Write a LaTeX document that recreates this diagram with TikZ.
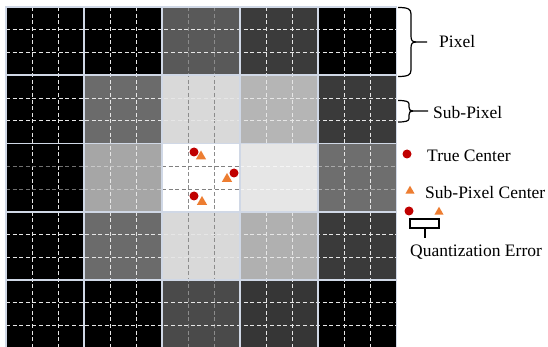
\documentclass[tikz,border=0pt]{standalone}
\usepackage{fontspec}
\setmainfont{Liberation Serif}
\usetikzlibrary{shapes.geometric}
\definecolor{dotred}{HTML}{C00000}
\definecolor{triorange}{HTML}{ED7D31}
\definecolor{cellborder}{HTML}{D0D8E6}
\definecolor{dashlight}{HTML}{E6E6E6}
\definecolor{dashgray}{HTML}{8C8C8C}
\begin{document}
\begin{tikzpicture}[x=1pt,y=-1pt,
  pixcell/.style={rectangle,inner sep=0pt,minimum width=78pt,minimum height=68.2pt},
  pixborder/.style={draw=cellborder,line width=1.4pt},
  subdash/.style={line width=0.9pt,dash pattern=on 4pt off 2.6pt},
  truec/.style={circle,fill=dotred,inner sep=0pt,minimum size=9pt},
  subc/.style={regular polygon,regular polygon sides=3,fill=triorange,inner sep=0pt,minimum size=12pt},
  subcs/.style={subc,minimum size=10.5pt},
  lbl/.style={inner sep=0pt,anchor=base west,font=\fontsize{17.5}{20}\selectfont},
  bracepath/.style={line width=1.2pt,line join=round},
  qbrack/.style={line width=1.8pt,line join=miter,draw=black}]
\useasboundingbox (0,0) rectangle (548,347);
\fill[white] (0,0) rectangle (548,347);
% pixel cells
\foreach \r/\c/\g in {1/1/0,1/2/0,1/3/89,1/4/59,1/5/0,
  2/1/0,2/2/107,2/3/217,2/4/181,2/5/58,
  3/1/0,3/2/166,3/3/255,3/4/230,3/5/110,
  4/1/0,4/2/107,4/3/217,4/4/176,4/5/58,
  5/1/0,5/2/0,5/3/74,5/4/54,5/5/0}{
  \pgfmathsetmacro\xx{6+78*(\c-1)+39}
  \pgfmathsetmacro\yy{7.2+68.2*(\r-1)+34.1}
  \node[pixcell,fill={rgb,255:red,\g;green,\g;blue,\g}] (p\r\c) at (\xx,\yy) {};
}
% vertical sub-pixel lines
\foreach \c in {1,2,4,5}{
  \foreach \k in {1,2}{
    \pgfmathsetmacro\xx{6+78*(\c-1)+26*\k}
    \draw[subdash,dashlight] (\xx,7.2) -- (\xx,348.2);
  }
}
\foreach \k in {1,2}{
  \pgfmathsetmacro\xx{6+78*2+26*\k}
  \draw[subdash,dashgray] (\xx,7.2) -- (\xx,348.2);
}
% horizontal sub-pixel lines
\foreach \r in {1,2,4,5}{
  \foreach \k in {1,2}{
    \pgfmathsetmacro\yy{7.2+68.2*(\r-1)+22.733*\k}
    \draw[subdash,dashlight] (6,\yy) -- (396,\yy);
  }
}
\foreach \c/\g in {1/112,2/200,3/128,4/245,5/168}{
  \foreach \k in {1,2}{
    \pgfmathsetmacro\yy{7.2+68.2*2+22.733*\k}
    \pgfmathsetmacro\xa{6+78*(\c-1)}
    \pgfmathsetmacro\xb{6+78*\c}
    \draw[subdash,draw={rgb,255:red,\g;green,\g;blue,\g}] (\xa,\yy) -- (\xb,\yy);
  }
}
% pixel borders
\foreach \r in {1,...,5}{
  \foreach \c in {1,...,5}{
    \draw[pixborder] (p\r\c.north west) rectangle (p\r\c.south east);
  }
}
% centres in the middle pixel
\node[truec] (tc1) at (194,152) {};
\node[truec] (tc2) at (234,173) {};
\node[truec] (tc3) at (194,196) {};
\node[subc] (sc1) at (201,156.5) {};
\node[subc] (sc2) at (227,179) {};
\node[subc] (sc3) at (202,202) {};
% braces
\draw[bracepath] (398,7.5) .. controls (408,7.5) and (411,9) .. (411,14) -- (411,36)
  .. controls (411,40) and (412,42) .. (416,42) -- (427,42);
\draw[bracepath] (416,42) .. controls (412,42) and (411,44) .. (411,48) -- (411,70)
  .. controls (411,75) and (408,76.5) .. (398,76.5);
\draw[bracepath] (398,100.5) .. controls (406,100.5) and (409,101.5) .. (409,104) -- (409,107)
  .. controls (409,110) and (410,111) .. (413,111) -- (428,111);
\draw[bracepath] (413,111) .. controls (410,111) and (409,112) .. (409,115) -- (409,118.5)
  .. controls (409,121) and (406,122) .. (398,122);
\node[lbl] (lpix) at (439,48) {Pixel};
\node[lbl] (lsub) at (433,119) {Sub-Pixel};
% legend
\node[truec] (ltc) at (407,154) {};
\node[lbl] (ltct) at (427,162) {True Center};
\node[subcs] (lsc) at (410,191) {};
\node[lbl] (lsct) at (425,199) {Sub-Pixel Center};
\node[truec] (qtc) at (409,211) {};
\node[subcs] (qsc) at (439,212) {};
\coordinate (qa) at (410,219);
\coordinate (qb) at (439.3,228.3);
\coordinate (qt) at (424.6,228.3);
\coordinate (qs) at (424.6,237.5);
\draw[qbrack] (qa) rectangle (qb);
\draw[line width=2pt,black] (qt) -- (qs);
\node[lbl] (lqe) at (410,256) {Quantization Error};
\end{tikzpicture}
\end{document}
